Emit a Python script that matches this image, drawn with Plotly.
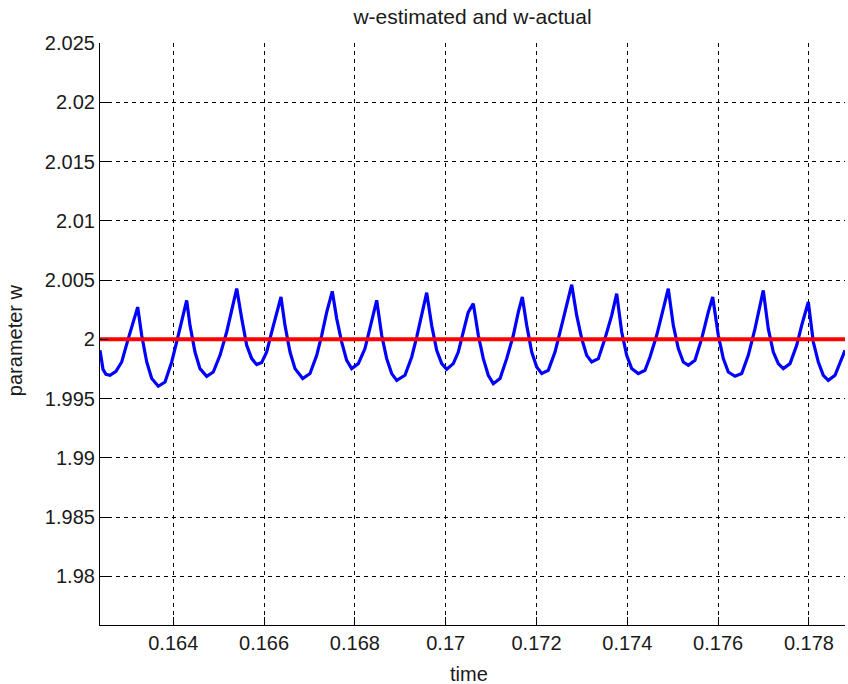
import plotly.graph_objects as go

# w-estimated (blue)
time = [
    0.162386, 0.162452, 0.162518, 0.162606, 0.162738, 0.162864, 0.163009, 0.163157, 0.163216,
    0.163304, 0.163415, 0.163525, 0.163670, 0.163818, 0.163965, 0.164110, 0.164221, 0.164295,
    0.164368, 0.164478, 0.164588, 0.164736, 0.164881, 0.165029, 0.165176, 0.165287, 0.165397,
    0.165507, 0.165617, 0.165727, 0.165837, 0.165947, 0.166057, 0.166168, 0.166278, 0.166372,
    0.166460, 0.166571, 0.166681, 0.166850, 0.167011, 0.167159, 0.167269, 0.167379, 0.167502,
    0.167599, 0.167709, 0.167819, 0.167929, 0.168075, 0.168222, 0.168332, 0.168480,
    0.168590, 0.168700, 0.168810, 0.168921, 0.169103, 0.169251, 0.169361, 0.169471, 0.169581,
    0.169691, 0.169801, 0.169912, 0.170022, 0.170167, 0.170277, 0.170387, 0.170497, 0.170608,
    0.170718, 0.170828, 0.170938, 0.171048, 0.171196, 0.171343, 0.171489, 0.171599, 0.171687,
    0.171784, 0.171894, 0.172004, 0.172114, 0.172259, 0.172407, 0.172554, 0.172665, 0.172775,
    0.172885, 0.172995, 0.173105, 0.173215, 0.173361, 0.173508, 0.173656, 0.173766,
    0.173876, 0.173986, 0.174096, 0.174241, 0.174389, 0.174499, 0.174647, 0.174792, 0.174902,
    0.175013, 0.175123, 0.175233, 0.175343, 0.175490, 0.175638, 0.175783, 0.175880,
    0.176003, 0.176114, 0.176224, 0.176371, 0.176519, 0.176664, 0.176812, 0.176922, 0.176994,
    0.177104, 0.177215, 0.177325, 0.177435, 0.177583, 0.177730, 0.177840, 0.177913, 0.177986,
    0.178096, 0.178206, 0.178316, 0.178426, 0.178574, 0.178684, 0.178794,
]
w_estimated = [
    1.99907, 1.99747, 1.99705, 1.99697, 1.99730, 1.99809, 2.00006, 2.00202, 2.00272,
    2.00034, 1.99809, 1.99669, 1.99604, 1.99640, 1.99809, 2.00034, 2.00230, 2.00329,
    2.00118, 1.99893, 1.99753, 1.99688, 1.99724, 1.99865, 2.00062, 2.00259, 2.00428,
    2.00175, 1.99949, 1.99837, 1.99787, 1.99804, 1.99893, 2.00062, 2.00230, 2.00357,
    2.00118, 1.99893, 1.99753, 1.99669, 1.99711, 1.99865, 2.00034, 2.00230, 2.00405,
    2.00175, 1.99977, 1.99823, 1.99753, 1.99795, 1.99922, 2.00090, 2.00329,
    2.00034, 1.99837, 1.99711, 1.99654, 1.99697, 1.99851, 2.00019, 2.00217, 2.00394,
    2.00118, 1.99907, 1.99795, 1.99747, 1.99795, 1.99893, 2.00062, 2.00230, 2.00301,
    2.00034, 1.99837, 1.99697, 1.99626, 1.99669, 1.99837, 2.00034, 2.00230, 2.00357,
    2.00118, 1.99893, 1.99766, 1.99711, 1.99739, 1.99893, 2.00118, 2.00287, 2.00461,
    2.00202, 2.00006, 1.99865, 1.99809, 1.99837, 2.00006, 2.00202, 2.00385,
    2.00062, 1.99865, 1.99753, 1.99711, 1.99739, 1.99851, 2.00034, 2.00259, 2.00428,
    2.00118, 1.99922, 1.99809, 1.99781, 1.99823, 2.00006, 2.00230, 2.00357,
    2.00034, 1.99837, 1.99724, 1.99688, 1.99711, 1.99865, 2.00090, 2.00287, 2.00413,
    2.00090, 1.99893, 1.99795, 1.99753, 1.99795, 1.99949, 2.00118, 2.00230, 2.00315,
    1.99977, 1.99809, 1.99697, 1.99654, 1.99697, 1.99809, 1.99907,
]

# w-actual (red)
time_actual = [0.162386, 0.178794]
w_actual = [2.0, 2.0]

x_range = [0.162386, 0.178794]
y_range = [1.9759, 2.025]

x_ticks = [0.164, 0.166, 0.168, 0.170, 0.172, 0.174, 0.176, 0.178]
x_labels = ["0.164", "0.166", "0.168", "0.17", "0.172", "0.174", "0.176", "0.178"]
y_ticks = [1.98, 1.985, 1.99, 1.995, 2.0, 2.005, 2.01, 2.015, 2.02, 2.025]
y_labels = ["1.98", "1.985", "1.99", "1.995", "2", "2.005", "2.01", "2.015", "2.02", "2.025"]

FONT = "Arial, Liberation Sans, sans-serif"
TXT = "#1a1a1a"

fig = go.Figure()
fig.add_trace(go.Scatter(x=time, y=w_estimated, mode="lines",
                         line=dict(color="#0000FF", width=3.2), showlegend=False))
fig.add_trace(go.Scatter(x=time_actual, y=w_actual, mode="lines",
                         line=dict(color="#FF0000", width=4), showlegend=False))

axis_common = dict(
    showline=True, linecolor="black", linewidth=1.2, mirror=False,
    ticks="inside", ticklen=8, tickcolor="black", tickwidth=1,
    showgrid=True, gridcolor="black", gridwidth=1, griddash="4px,4px",
    zeroline=False, tickfont=dict(family=FONT, size=20, color=TXT),
)

fig.update_layout(
    width=848, height=684,
    margin=dict(l=100, r=3, t=43, b=59),
    paper_bgcolor="white", plot_bgcolor="white",
    title=dict(text="w-estimated and w-actual", x=0.5, xref="paper",
               y=1 - 17 / 684, yref="container", yanchor="middle",
               font=dict(family=FONT, size=21, color=TXT)),
    xaxis=dict(range=x_range, tickvals=x_ticks, ticktext=x_labels, **axis_common),
    yaxis=dict(range=y_range, tickvals=y_ticks, ticktext=y_labels, **axis_common),
    annotations=[
        dict(text="time", xref="paper", yref="paper", x=0.495, y=-0.085,
             xanchor="center", yanchor="middle", showarrow=False,
             font=dict(family=FONT, size=20, color=TXT)),
        dict(text="parameter w", xref="paper", yref="paper", x=-0.115, y=0.49,
             xanchor="center", yanchor="middle", showarrow=False, textangle=-90,
             font=dict(family=FONT, size=20, color=TXT)),
    ],
)

fig.write_html("out.html")
